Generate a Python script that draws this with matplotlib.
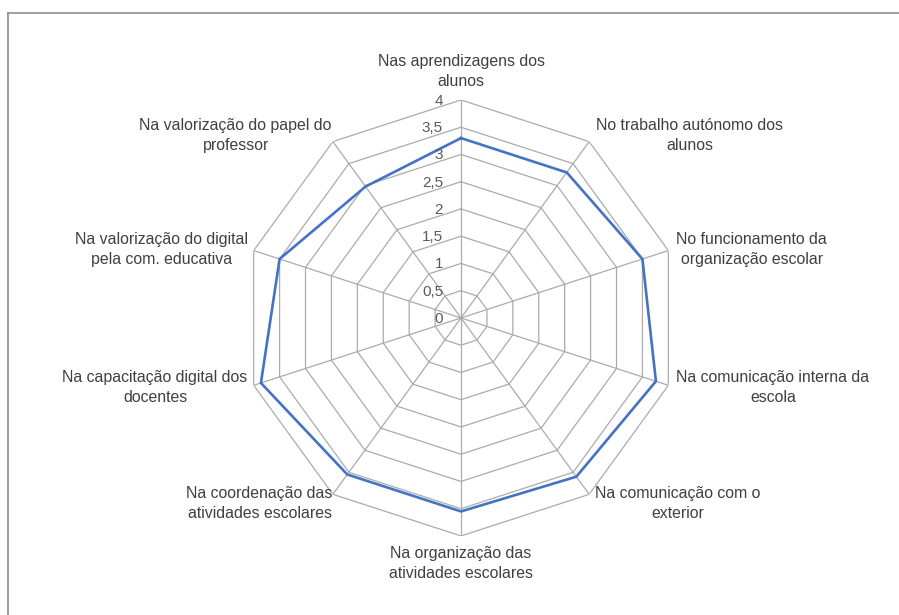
import numpy as np
import matplotlib.pyplot as plt
from matplotlib.lines import Line2D

categories = [
    "Nas aprendizagens dos\nalunos",
    "No trabalho autónomo dos\nalunos",
    "No funcionamento da\norganização escolar",
    "Na comunicação interna da\nescola",
    "Na comunicação com o\nexterior",
    "Na organização das\natividades escolares",
    "Na coordenação das\natividades escolares",
    "Na capacitação digital dos\ndocentes",
    "Na valorização do digital\npela com. educativa",
    "Na valorização do papel do\nprofessor",
]
values = [3.30, 3.30, 3.50, 3.76, 3.60, 3.55, 3.55, 3.86, 3.50, 2.98]
levels = [0, 0.5, 1, 1.5, 2, 2.5, 3, 3.5, 4]
level_labels = ["0", "0,5", "1", "1,5", "2", "2,5", "3", "3,5", "4"]

plt.rcParams['font.family'] = ['Liberation Sans', 'DejaVu Sans']

n = len(categories)
theta = np.arange(n) * 2 * np.pi / n
closed = np.append(theta, theta[0])

fig = plt.figure(figsize=(8.99, 6.15), dpi=100)
ax = fig.add_axes([0.2703, 0.1285, 0.485, 0.709], projection='polar')
ax.set_theta_zero_location('N')
ax.set_theta_direction(-1)
ax.set_ylim(0, 4)
ax.grid(False)
ax.spines['polar'].set_visible(False)
ax.set_xticks([])
ax.set_yticks([])

grid_col = '#ababab'
for lv in levels[1:]:
    ax.plot(closed, [lv] * (n + 1), color=grid_col, lw=0.9, zorder=1)
for t in theta:
    ax.plot([t, t], [0, 4], color=grid_col, lw=0.9, zorder=1)

ax.plot(closed, np.append(values, values[0]), color='#4472C4', lw=1.9, zorder=3)

for lv, lab in zip(levels, level_labels):
    ax.annotate(lab, xy=(0, lv), xytext=(-18, -1), textcoords='offset pixels',
                ha='right', va='center', fontsize=11, color='#595959')

# label placement per axis: offset (pixels), ha, va
place = [
    ((0, 11), 'center', 'bottom'),
    ((7, 6), 'left', 'center'),
    ((8, 1), 'left', 'center'),
    ((8, -2), 'left', 'center'),
    ((6, -9), 'left', 'center'),
    ((0, -10), 'center', 'top'),
    ((0, -9), 'right', 'center'),
    ((-6, -2), 'right', 'center'),
    ((-6, 1), 'right', 'center'),
    ((-1, 6), 'right', 'center'),
]
for t, lab, (off, ha, va) in zip(theta, categories, place):
    ax.annotate(lab, xy=(t, 4), xytext=off, textcoords='offset pixels',
                ha=ha, va=va, multialignment='center', fontsize=11.4,
                color='#404040', linespacing=1.42)

fig.add_artist(Line2D([8 / 899, 1], [1 - 13 / 615] * 2, color='#8c8c8c', lw=1.2,
                      transform=fig.transFigure))
fig.add_artist(Line2D([8 / 899] * 2, [0, 1 - 13 / 615], color='#8c8c8c', lw=1.2,
                      transform=fig.transFigure))

fig.savefig('out.png', dpi=100, facecolor='white')
